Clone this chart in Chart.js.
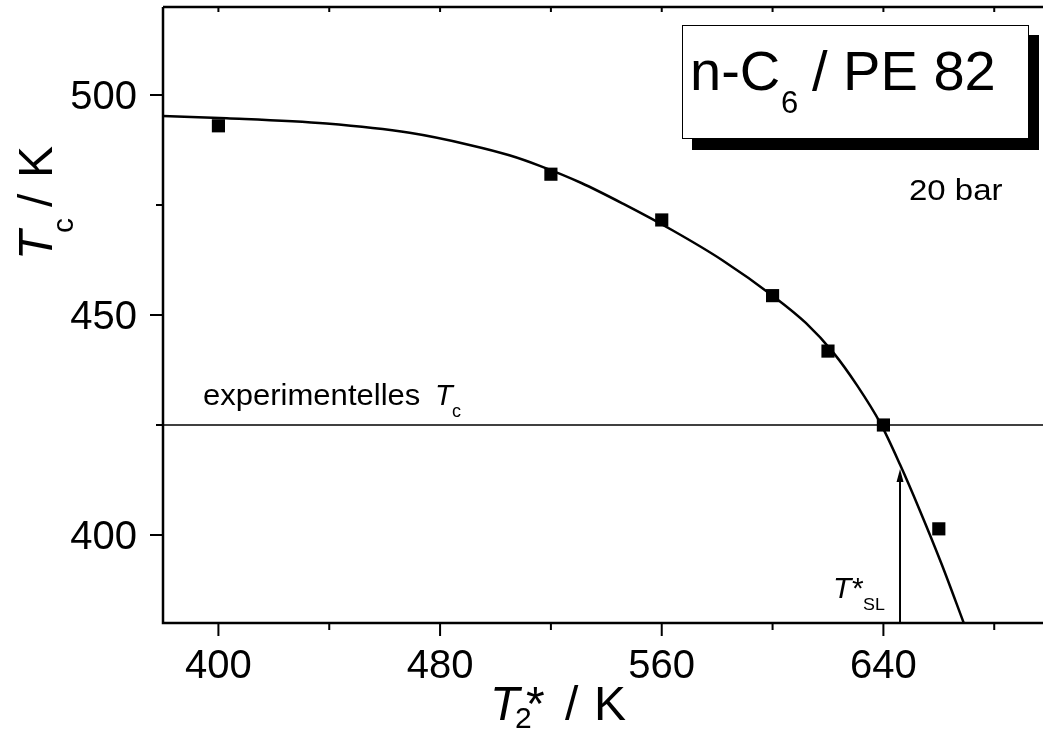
<!DOCTYPE html>
<html>
<head>
<meta charset="utf-8">
<script src="https://cdn.jsdelivr.net/npm/chart.js@4.4.1/dist/chart.umd.min.js"></script>
<style>
  html, body { margin: 0; padding: 0; background: #fff; }
  #wrap { width: 1043px; height: 740px; }
</style>
</head>
<body>
<div id="wrap"><canvas id="tcChart" width="1043" height="740"></canvas></div>
<script>
/* Tc vs T2* for n-C6 / PE 82 at 20 bar */

// measured points (squares)
const measuredT2 = [400, 520, 560, 600, 620, 640, 660];
const measuredTc = [493.0, 482.0, 471.6, 454.4, 441.8, 425.0, 401.4];

// fitted curve
const fitT2 = [380, 403, 439, 469, 491, 505, 516, 531, 546, 564, 582, 600, 612, 622, 630.5, 639, 646, 653, 661, 669];
const fitTc = [495.2, 494.7, 493.5, 491.4, 488.6, 486.3, 483.9, 480.0, 475.3, 469.2, 462.4, 454.4, 448.2, 441.4, 434.0, 425.3, 416.0, 405.8, 393.4, 380.0];

// experimental Tc line and T*SL arrow
const expTc = 425;
const tslX = 646;
const tslArrowY = [380, 415];

// axes
const xRange = [380, 697.6];
const yRange = [380, 520];
const xMajorTicks = [400, 480, 560, 640];
const xMinorTicks = [440, 520, 600, 680];
const yMajorTicks = [400, 450, 500];
const yMinorTicks = [425, 475];

const FONT = '"Liberation Sans", Arial, Helvetica, sans-serif';

function txt(ctx, s, x, y, size, opts = {}) {
  ctx.save();
  ctx.font = `${opts.italic ? "italic " : ""}${size}px ${FONT}`;
  ctx.fillStyle = "#000";
  ctx.textAlign = opts.align || "left";
  ctx.textBaseline = "alphabetic";
  ctx.translate(x, y);
  if (opts.sx) ctx.scale(opts.sx, 1);
  ctx.fillText(s, 0, 0);
  ctx.restore();
}

const whiteBg = {
  id: "whiteBg",
  beforeDraw(chart) {
    const ctx = chart.ctx;
    ctx.save();
    ctx.fillStyle = "#fff";
    ctx.fillRect(0, 0, chart.width, chart.height);
    ctx.restore();
  },
};

const frame = {
  id: "frame",
  afterDraw(chart) {
    const { ctx, chartArea: a } = chart;
    const x = chart.scales.x, y = chart.scales.y;
    ctx.save();
    ctx.strokeStyle = "#000";
    ctx.lineWidth = 2.5;
    ctx.lineCap = "butt";

    // axis lines
    ctx.beginPath();
    ctx.moveTo(a.left, a.top);
    ctx.lineTo(a.right, a.top);
    ctx.moveTo(a.left, a.top);
    ctx.lineTo(a.left, a.bottom);
    ctx.lineTo(a.right, a.bottom);
    ctx.stroke();

    // ticks
    ctx.lineWidth = 2;
    ctx.beginPath();
    xMajorTicks.forEach((v) => {
      const px = x.getPixelForValue(v);
      ctx.moveTo(px, a.bottom); ctx.lineTo(px, a.bottom + 13);
      ctx.moveTo(px, a.top); ctx.lineTo(px, a.top + 5);
    });
    xMinorTicks.forEach((v) => {
      const px = x.getPixelForValue(v);
      ctx.moveTo(px, a.bottom); ctx.lineTo(px, a.bottom + 7);
      ctx.moveTo(px, a.top); ctx.lineTo(px, a.top + 5);
    });
    yMajorTicks.forEach((v) => {
      const py = y.getPixelForValue(v);
      ctx.moveTo(a.left - 13, py); ctx.lineTo(a.left, py);
    });
    yMinorTicks.forEach((v) => {
      const py = y.getPixelForValue(v);
      ctx.moveTo(a.left - 7, py); ctx.lineTo(a.left, py);
    });
    ctx.stroke();

    xMajorTicks.forEach((v) => txt(ctx, String(v), x.getPixelForValue(v), 678, 40, { align: "center" }));
    yMajorTicks.forEach((v) => txt(ctx, String(v), a.left - 26, y.getPixelForValue(v) + 14, 40, { align: "right" }));

    // x title
    txt(ctx, "T", 490, 720, 48, { italic: true });
    txt(ctx, "2", 515, 728, 30);
    txt(ctx, "*", 526, 720, 48);
    txt(ctx, "/", 565, 720, 48);
    txt(ctx, "K", 594, 720, 48);

    // y title
    ctx.save();
    ctx.translate(52, 260);
    ctx.rotate(-Math.PI / 2);
    txt(ctx, "T", 0, 0, 48, { italic: true });
    txt(ctx, "c", 27, 21, 30);
    txt(ctx, "/", 53, 0, 48);
    txt(ctx, "K", 82, 0, 48);
    ctx.restore();

    // arrow head for T*SL
    const ax = x.getPixelForValue(tslX), ay = y.getPixelForValue(tslArrowY[1]);
    ctx.fillStyle = "#000";
    ctx.beginPath();
    ctx.moveTo(ax, ay);
    ctx.lineTo(ax - 3.5, ay + 13);
    ctx.lineTo(ax + 3.5, ay + 13);
    ctx.closePath();
    ctx.fill();

    // annotations
    txt(ctx, "experimentelles", 203, 405, 29, { sx: 1.07 });
    txt(ctx, "T", 435, 405, 29, { italic: true });
    txt(ctx, "c", 452, 417, 18);
    txt(ctx, "T", 833, 598, 30, { italic: true });
    txt(ctx, "*", 852, 598, 30);
    txt(ctx, "SL", 863, 610, 17, { sx: 1.05 });
    txt(ctx, "20 bar", 909, 200, 30, { sx: 1.1 });

    // label box with shadow
    ctx.fillStyle = "#000";
    ctx.fillRect(692, 35, 347, 115);
    ctx.fillStyle = "#fff";
    ctx.fillRect(682, 25, 347, 114);
    ctx.lineWidth = 1;
    ctx.strokeStyle = "#000";
    ctx.strokeRect(682.5, 25.5, 346, 113);
    txt(ctx, "n-C", 690, 90, 56);
    txt(ctx, "6", 781, 113, 31);
    txt(ctx, "/ PE 82", 812, 90, 56);

    ctx.restore();
  },
};

const toPts = (xs, ys) => xs.map((v, i) => ({ x: v, y: ys[i] }));

new Chart(document.getElementById("tcChart"), {
  type: "scatter",
  data: {
    datasets: [
      {
        label: "Messwerte",
        data: toPts(measuredT2, measuredTc),
        pointStyle: "rect",
        pointRadius: 9.3,
        pointHoverRadius: 9.3,
        backgroundColor: "#000",
        borderWidth: 0,
      },
      {
        label: "Fit",
        data: toPts(fitT2, fitTc),
        showLine: true,
        borderColor: "#000",
        borderWidth: 2.5,
        pointRadius: 0,
        cubicInterpolationMode: "monotone",
      },
      {
        label: "experimentelles Tc",
        data: toPts(xRange, [expTc, expTc]),
        showLine: true,
        borderColor: "#000",
        borderWidth: 1.4,
        pointRadius: 0,
      },
      {
        label: "T*SL",
        data: toPts([tslX, tslX], [tslArrowY[0], tslArrowY[1] - 1.5]),
        showLine: true,
        borderColor: "#000",
        borderWidth: 2,
        pointRadius: 0,
      },
    ],
  },
  options: {
    responsive: false,
    animation: false,
    devicePixelRatio: 1,
    layout: { autoPadding: false, padding: { left: 163, top: 7, right: 0, bottom: 117 } },
    plugins: { legend: { display: false }, tooltip: { enabled: false } },
    scales: {
      x: { type: "linear", min: xRange[0], max: xRange[1], display: false },
      y: { type: "linear", min: yRange[0], max: yRange[1], display: false },
    },
  },
  plugins: [whiteBg, frame],
});
</script>
</body>
</html>
